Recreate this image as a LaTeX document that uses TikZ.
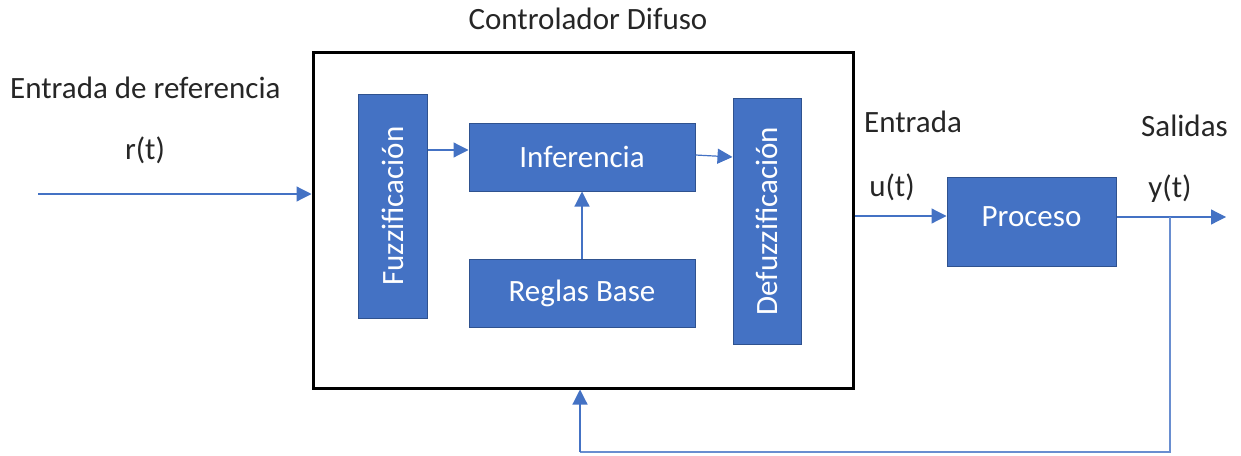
\documentclass[tikz,border=0pt]{standalone}
\usepackage{fontspec}
\setmainfont{Carlito}
\usetikzlibrary{arrows.meta}
\definecolor{blk}{HTML}{4472C4}
\definecolor{blkedge}{HTML}{2F528F}
\tikzset{
  block/.style={draw=blkedge, line width=1pt, fill=blk, text=white, inner sep=0pt,
    font=\fontsize{31}{36}\selectfont},
  lbl/.style={inner sep=0pt, font=\fontsize{31}{36}\selectfont, text=black!85},
  flow/.style={draw=blk, line width=1.2pt, -{Triangle[length=15pt,width=15pt]}},
  wire/.style={draw=blk!80, line width=1.2pt}
}
\begin{document}
\begin{tikzpicture}[x=1pt,y=-1pt]
\useasboundingbox (0,0) rectangle (1241,455);
% controller frame
\node[draw=black, line width=3pt, minimum width=540pt, minimum height=336pt, inner sep=0pt]
  (ctrl) at (583,220) {};
\node[lbl] (ctitle) at (588,19) {Controlador Difuso};
% inner blocks
\node[block, minimum width=69pt, minimum height=224pt] (fuzz) at (392.5,206)
  {\rotatebox{90}{Fuzzificación}};
\node[block, minimum width=226pt, minimum height=68pt] (inf) at (582,157) {Inferencia};
\node[block, minimum width=226pt, minimum height=68pt] (rules) at (582,293) {Reglas Base};
\node[block, minimum width=68pt, minimum height=246pt] (defuzz) at (767,221)
  {\rotatebox{90}{Defuzzificación}};
\node[block, minimum width=169pt, minimum height=89pt] (proc) at (1031.5,221.5)
  {\raisebox{10pt}{Proceso}};
% labels
\node[lbl, anchor=west] (refin) at (10,88) {Entrada de referencia};
\node[lbl] (rt) at (145,150) {r(t)};
\node[lbl, anchor=west] (entr) at (864,122) {Entrada};
\node[lbl] (ut) at (892,187) {u(t)};
\node[lbl, anchor=west] (sal) at (1141,126) {Salidas};
\node[lbl] (yt) at (1170,189) {y(t)};
% coordinates of free ends and bends
\coordinate (start) at (38,194);
\coordinate (out) at (1226,217);
\coordinate (tap) at (1170,217);
\coordinate (fbR) at (1170,452);
\coordinate (fbL) at (580,452);
% connectors
\draw[flow] (start) -- (start -| ctrl.west);
\draw[flow] (fuzz.east |- 0,150) -- (inf.west |- 0,150);
\draw[flow] (inf.east |- 0,155) -- (defuzz.west |- 0,157);
\draw[flow] (rules.north) -- (inf.south);
\draw[flow] (ctrl.east |- 0,216) -- (proc.west |- 0,216);
\draw[flow] (proc.east |- out) -- (out);
\draw[wire] (tap) -- (fbR) -- (fbL);
\draw[flow] (fbL) -- (fbL |- ctrl.south);
\end{tikzpicture}
\end{document}
